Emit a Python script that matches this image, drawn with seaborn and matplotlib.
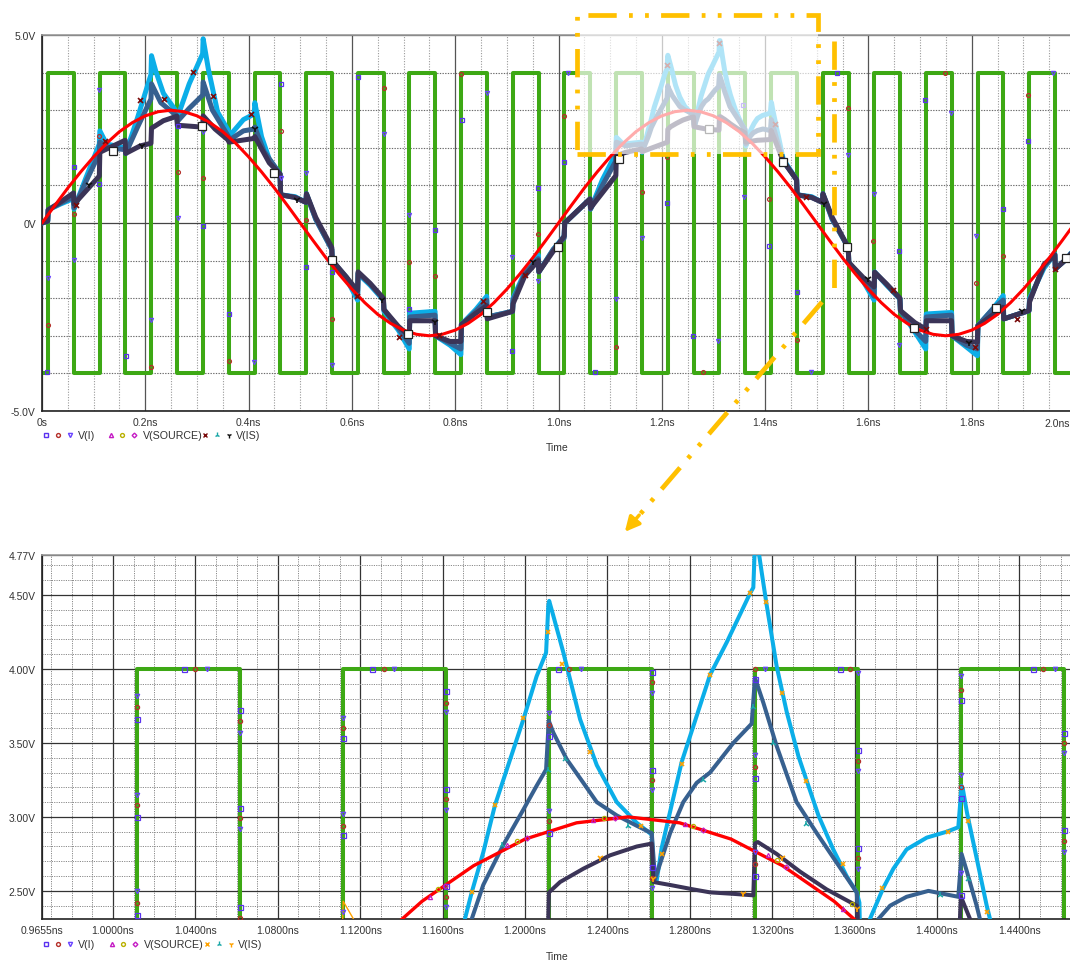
import numpy as np
import pandas as pd
import matplotlib
matplotlib.use("Agg")
import matplotlib.pyplot as plt
import seaborn as sns
from matplotlib.lines import Line2D
from matplotlib.patches import Rectangle, FancyArrowPatch
from matplotlib.ticker import MultipleLocator, FixedLocator

# ------------------------------------------------------------------ data
clk_rise = [0.0115, 0.1115, 0.2115, 0.3115, 0.4115, 0.5115, 0.6115, 0.7115, 0.8115, 0.9115,
            1.0115, 1.1115, 1.2115, 1.3115, 1.4115, 1.5115, 1.6115, 1.7115, 1.8115, 1.9115]
clk_fall = [0.0615, 0.1615, 0.2615, 0.3615, 0.4615, 0.5615, 0.6615, 0.7615, 0.8615, 0.9615,
            1.0615, 1.1615, 1.2615, 1.3615, 1.4615, 1.5615, 1.6615, 1.7615, 1.8615, 1.9615]
clk_high, clk_low = 4.0, -4.0

red_step = 0.025
red_v = [0.00, 0.47, 0.93, 1.36, 1.76, 2.12, 2.43, 2.67, 2.85, 2.96, 3.00, 2.96, 2.85, 2.67, 2.43, 2.12,
         1.76, 1.36, 0.93, 0.47, 0.00, -0.47, -0.93, -1.36, -1.76, -2.12, -2.43, -2.67, -2.85, -2.96,
         -3.00, -2.96, -2.85, -2.67, -2.43, -2.12, -1.76, -1.36, -0.93, -0.47,
         0.00, 0.47, 0.93, 1.36, 1.76, 2.12, 2.43, 2.67, 2.85, 2.96, 3.00, 2.96, 2.85, 2.67, 2.43, 2.12,
         1.76, 1.36, 0.93, 0.47, 0.00, -0.47, -0.93, -1.36, -1.76, -2.12, -2.43, -2.67, -2.85, -2.96,
         -3.00, -2.96, -2.85, -2.67, -2.43, -2.12, -1.76, -1.36, -0.93, -0.47, 0.00]

trace_lb = [(0.000, 0.00), (0.011, 0.05), (0.012, 0.35), (0.035, 0.50), (0.061, 0.65), (0.062, 0.37),
            (0.085, 1.20), (0.111, 2.10), (0.112, 2.45), (0.125, 2.10), (0.161, 2.00), (0.162, 1.85),
            (0.185, 2.80), (0.211, 3.95), (0.212, 4.45), (0.220, 4.05), (0.235, 3.45), (0.261, 2.95),
            (0.262, 2.80), (0.285, 3.70), (0.311, 4.50), (0.312, 4.90), (0.322, 4.10), (0.340, 2.95),
            (0.361, 2.45), (0.362, 2.30), (0.390, 2.75), (0.411, 2.90), (0.412, 3.20), (0.425, 2.30),
            (0.440, 1.70), (0.461, 1.30), (0.462, 0.75), (0.490, 0.70), (0.511, 0.55), (0.512, 0.78),
            (0.530, 0.10), (0.561, -0.70), (0.562, -1.00), (0.590, -1.50), (0.611, -2.05), (0.612, -1.35),
            (0.635, -1.65), (0.661, -2.05), (0.662, -2.35), (0.690, -2.85), (0.711, -3.35), (0.712, -2.40),
            (0.761, -2.35), (0.762, -3.00), (0.790, -3.25), (0.811, -3.50), (0.812, -2.70), (0.840, -2.30),
            (0.861, -1.95), (0.862, -2.50), (0.911, -2.35), (0.912, -2.00), (0.935, -1.30), (0.961, -0.85),
            (0.962, -1.30), (0.990, -0.70), (1.011, -0.35), (1.012, 0.00), (1.035, 0.30), (1.061, 0.64),
            (1.062, 0.37), (1.085, 1.15), (1.111, 1.85), (1.112, 2.28), (1.125, 2.10), (1.161, 2.15),
            (1.162, 1.88), (1.1708, 2.31), (1.1741, 2.49), (1.1797, 2.76), (1.1854, 3.08), (1.1911, 3.32),
            (1.1992, 3.66), (1.2056, 3.95), (1.2102, 4.11), (1.2113, 4.43), (1.2117, 4.46), (1.2137, 4.36),
            (1.2186, 4.11), (1.2267, 3.66), (1.2348, 3.35), (1.2445, 3.10), (1.2542, 2.96), (1.2615, 2.88),
            (1.2623, 2.63), (1.2639, 2.57), (1.2663, 2.79), (1.2760, 3.37), (1.2849, 3.75), (1.2898, 3.96),
            (1.2979, 4.18), (1.3092, 4.51), (1.3108, 4.55), (1.3116, 4.85), (1.3128, 4.85), (1.3149, 4.65),
            (1.3173, 4.43), (1.3221, 4.02), (1.3270, 3.71), (1.3327, 3.41), (1.3424, 3.01), (1.3496, 2.78),
            (1.3561, 2.60), (1.3610, 2.49), (1.3623, 2.42), (1.3628, 2.05), (1.3674, 2.31), (1.3739, 2.52),
            (1.3788, 2.65), (1.3852, 2.78), (1.3950, 2.86), (1.4047, 2.90), (1.4103, 2.93), (1.4119, 3.21),
            (1.4125, 3.19), (1.4145, 3.03), (1.4192, 2.72), (1.4241, 2.40), (1.4257, 2.31), (1.4350, 1.70),
            (1.461, 1.15), (1.462, 0.75), (1.490, 0.70), (1.511, 0.55), (1.512, 0.78), (1.530, 0.10),
            (1.561, -0.65), (1.562, -1.05), (1.590, -1.55), (1.611, -2.05), (1.612, -1.30), (1.635, -1.65),
            (1.661, -2.02), (1.662, -2.33), (1.690, -2.90), (1.711, -3.35), (1.712, -2.42), (1.761, -2.38),
            (1.762, -3.00), (1.790, -3.30), (1.811, -3.53), (1.812, -2.73), (1.840, -2.30), (1.861, -1.93),
            (1.862, -2.55), (1.911, -2.33), (1.912, -2.00), (1.940, -1.20), (1.961, -0.82), (1.962, -1.22),
            (1.985, -0.94), (2.000, -0.65)]

trace_sb = [(0.000, 0.00), (0.011, 0.05), (0.012, 0.35), (0.035, 0.52), (0.061, 0.70), (0.062, 0.40),
            (0.085, 1.10), (0.111, 1.85), (0.112, 2.15), (0.130, 2.00), (0.161, 1.95), (0.162, 1.85),
            (0.185, 2.55), (0.211, 3.30), (0.212, 3.70), (0.230, 3.20), (0.261, 2.85), (0.262, 2.70),
            (0.285, 3.05), (0.311, 3.40), (0.312, 3.75), (0.330, 3.00), (0.361, 2.30), (0.362, 2.20),
            (0.390, 2.45), (0.411, 2.50), (0.412, 2.55), (0.430, 1.90), (0.461, 1.30), (0.462, 0.75),
            (0.490, 0.68), (0.511, 0.55), (0.512, 0.76), (0.530, 0.10), (0.561, -0.70), (0.562, -1.00),
            (0.590, -1.45), (0.611, -1.95), (0.612, -1.33), (0.635, -1.62), (0.661, -2.03), (0.662, -2.30),
            (0.690, -2.80), (0.711, -3.20), (0.712, -2.50), (0.761, -2.45), (0.762, -3.00), (0.790, -3.20),
            (0.811, -3.35), (0.812, -2.70), (0.840, -2.35), (0.861, -2.05), (0.862, -2.50), (0.911, -2.35),
            (0.912, -2.05), (0.935, -1.35), (0.961, -0.95), (0.962, -1.30), (0.990, -0.70), (1.011, -0.40),
            (1.012, 0.00), (1.035, 0.30), (1.061, 0.64), (1.062, 0.37), (1.085, 1.00), (1.111, 1.65),
            (1.112, 2.15), (1.130, 2.05), (1.161, 2.10), (1.162, 1.90), (1.1741, 2.31), (1.1797, 2.54),
            (1.1894, 2.81), (1.1992, 3.05), (1.2056, 3.21), (1.2102, 3.32), (1.2115, 3.65), (1.2137, 3.57),
            (1.2202, 3.39), (1.2283, 3.23), (1.2348, 3.10), (1.2445, 3.01), (1.2542, 2.94), (1.2615, 2.89),
            (1.2631, 2.58), (1.2704, 2.89), (1.2768, 3.10), (1.2833, 3.23), (1.2898, 3.30), (1.3011, 3.50),
            (1.3100, 3.63), (1.3116, 3.94), (1.3157, 3.77), (1.3221, 3.48), (1.3318, 3.10), (1.3416, 2.89),
            (1.3513, 2.69), (1.3610, 2.49), (1.3625, 2.10), (1.3715, 2.31), (1.3772, 2.40), (1.3852, 2.46),
            (1.3958, 2.50), (1.4030, 2.48), (1.4103, 2.46), (1.4119, 2.75), (1.4145, 2.63), (1.4192, 2.40),
            (1.4208, 2.31), (1.4350, 1.65), (1.461, 1.15), (1.462, 0.75), (1.490, 0.68), (1.511, 0.55),
            (1.512, 0.76), (1.530, 0.10), (1.561, -0.65), (1.562, -1.05), (1.590, -1.50), (1.611, -1.95),
            (1.612, -1.31), (1.635, -1.63), (1.661, -2.01), (1.662, -2.33), (1.690, -2.85), (1.711, -3.15),
            (1.712, -2.50), (1.761, -2.45), (1.762, -3.00), (1.790, -3.25), (1.811, -3.35), (1.812, -2.73),
            (1.840, -2.30), (1.861, -2.05), (1.862, -2.55), (1.911, -2.33), (1.912, -2.05), (1.940, -1.15),
            (1.961, -0.84), (1.962, -1.22), (1.985, -0.94), (2.000, -0.67)]

trace_nv = [(0.000, 0.00), (0.011, 0.05), (0.012, 0.35), (0.035, 0.55), (0.061, 0.80), (0.062, 0.50),
            (0.085, 0.85), (0.111, 1.25), (0.112, 1.88), (0.130, 2.00), (0.161, 2.20), (0.162, 1.85),
            (0.190, 2.05), (0.211, 2.12), (0.212, 2.52), (0.235, 2.72), (0.261, 2.84), (0.262, 2.60),
            (0.311, 2.55), (0.312, 2.85), (0.335, 2.50), (0.361, 2.20), (0.362, 2.15), (0.411, 2.25),
            (0.412, 2.30), (0.440, 1.60), (0.461, 1.30), (0.462, 0.75), (0.490, 0.68), (0.511, 0.55),
            (0.512, 0.78), (0.530, 0.15), (0.561, -0.65), (0.562, -1.00), (0.590, -1.45), (0.611, -1.80),
            (0.612, -1.30), (0.635, -1.60), (0.661, -2.00), (0.662, -2.30), (0.690, -2.75), (0.711, -3.00),
            (0.712, -2.60), (0.761, -2.60), (0.762, -3.00), (0.790, -3.15), (0.811, -3.15), (0.812, -2.70),
            (0.840, -2.40), (0.861, -2.20), (0.862, -2.55), (0.911, -2.35), (0.912, -2.15), (0.935, -1.40),
            (0.961, -1.00), (0.962, -1.30), (0.995, -0.65), (1.011, -0.35), (1.012, 0.00), (1.035, 0.30),
            (1.061, 0.64), (1.062, 0.40), (1.111, 1.26), (1.112, 1.79), (1.130, 1.88), (1.161, 1.97),
            (1.162, 1.90), (1.2110, 2.15), (1.2116, 2.49), (1.2170, 2.56), (1.2283, 2.65), (1.2412, 2.74),
            (1.2542, 2.80), (1.2615, 2.82), (1.2623, 2.56), (1.2704, 2.54), (1.2817, 2.51), (1.2898, 2.49),
            (1.3011, 2.48), (1.3108, 2.47), (1.3116, 2.82), (1.3130, 2.83), (1.3221, 2.75), (1.3335, 2.63),
            (1.3464, 2.51), (1.3610, 2.40), (1.3622, 2.15), (1.3850, 2.20), (1.4108, 2.22), (1.4116, 2.46),
            (1.4160, 2.31), (1.4350, 1.65), (1.461, 1.15), (1.462, 0.75), (1.490, 0.68), (1.511, 0.55),
            (1.512, 0.78), (1.530, 0.15), (1.561, -0.65), (1.562, -1.05), (1.590, -1.45), (1.611, -1.70),
            (1.612, -1.31), (1.635, -1.62), (1.661, -2.00), (1.662, -2.33), (1.690, -2.65), (1.711, -2.82),
            (1.712, -2.60), (1.761, -2.60), (1.762, -3.00), (1.790, -3.15), (1.811, -3.17), (1.812, -2.73),
            (1.840, -2.45), (1.861, -2.24), (1.862, -2.55), (1.911, -2.33), (1.912, -2.10), (1.940, -1.10),
            (1.961, -0.85), (1.962, -1.22), (1.985, -0.94), (2.000, -0.69)]

trace_or = [(1.1113, 2.20), (1.1117, 2.43), (1.1167, 2.31), (1.1180, 2.20)]

# markers, top chart
top_sq_t = [0.009, 0.062, 0.111, 0.163, 0.263, 0.312, 0.363, 0.463, 0.511, 0.561, 0.611, 0.7106, 0.761,
            0.8126, 0.9106, 0.961, 1.011, 1.0707, 1.2107, 1.261, 1.358, 1.408, 1.461, 1.5386, 1.66, 1.7096,
            1.86, 1.9097]
top_sq_v = [-3.95, 1.48, 1.05, -3.53, 2.59, -0.07, -2.42, 3.71, -1.18, -1.29, 3.87, -2.29, -0.19,
            2.75, -3.4, 0.92, 1.63, -3.97, 0.52, -3.0, 3.14, -0.6, -1.84, 4.0, -0.75, 3.28, 0.37, 2.17]
top_ci_t = [0.011, 0.062, 0.111, 0.211, 0.263, 0.312, 0.363, 0.463, 0.511, 0.561, 0.6615, 0.7106, 0.761,
            0.811, 0.961, 1.011, 1.111, 1.161, 1.2107, 1.279, 1.408, 1.461, 1.56, 1.608, 1.748, 1.808,
            1.86, 1.9097]
top_ci_v = [-2.7, 0.24, 2.32, -3.82, 1.35, 1.2, -3.66, 2.46, 0.08, -2.55, 3.58, -1.05, -1.42, 3.97,
            -0.29, 2.85, -3.29, 0.82, 1.75, -3.97, 0.64, -3.1, 3.05, -0.48, 4.0, -1.6, -0.89, 3.41]
top_tr_t = [0.011, 0.062, 0.111, 0.211, 0.263, 0.312, 0.41, 0.463, 0.511, 0.561, 0.6615, 0.7106, 0.861,
            0.9106, 0.961, 1.019, 1.111, 1.161, 1.309, 1.36, 1.489, 1.56, 1.61, 1.66, 1.76, 1.808, 1.958]
top_tr_v = [-1.45, -0.98, 3.55, -2.58, 0.13, 2.41, -3.7, 1.21, 1.32, -3.77, 2.37, 0.2, 3.47, -0.91,
            -1.53, 4.0, -2.02, -0.41, -3.15, 0.68, -3.97, 1.81, 0.78, -3.24, 2.92, -0.34, 4.0]
top_x_t = [0.066, 0.122, 0.19, 0.236, 0.292, 0.332, 0.404, 0.609, 0.691, 0.769, 0.854, 0.935, 1.2094,
           1.3106, 1.4195, 1.48, 1.648, 1.712, 1.807, 1.888, 1.961]
top_x_v = [0.49, 2.19, 3.28, 3.31, 4.02, 3.39, 2.9, -1.93, -3.04, -2.97, -2.07, -1.37, 4.2, 4.8, 2.63,
           0.7, -1.78, -2.82, -3.31, -2.55, -1.22]
top_y_t = [0.0917, 0.1936, 0.4123, 0.4944, 0.659, 0.761, 0.951, 1.514, 1.6, 1.794, 1.897]
top_y_v = [1.0, 2.04, 2.5, 0.6, -2.04, -2.64, -1.05, 0.51, -1.49, -3.2, -2.33]
top_cur_t = [0.138, 0.3104, 0.4498, 0.562, 0.7092, 0.861, 0.9997, 1.117, 1.2914, 1.435, 1.558, 1.689,
             1.848, 1.982]
top_cur_v = [1.92, 2.59, 1.32, -0.98, -2.95, -2.36, -0.65, 1.70, 2.5, 1.61, -0.65, -2.8, -2.27, -0.94]

# markers, zoomed chart
bot_sq_t = [1.0346, 1.0115, 1.0115, 1.0115, 1.0615, 1.0615, 1.0615, 1.1115, 1.1115, 1.1258, 1.1615,
            1.1615, 1.1615, 1.2162, 1.2115, 1.2115, 1.2615, 1.2615, 1.2615, 1.3528, 1.3615, 1.3615,
            1.4115, 1.4115, 1.4115, 1.3115, 1.3115, 1.3115, 1.4615, 1.4615, 1.4465]
bot_sq_v = [4.0, 3.66, 3.0, 2.34, 3.72, 3.06, 2.39, 3.53, 2.88, 4.0, 3.85, 3.19, 2.53, 4.0, 3.55, 2.89,
            3.98, 3.32, 2.66, 4.0, 3.45, 2.79, 3.79, 3.13, 2.47, 3.93, 3.26, 2.6, 3.57, 2.91, 4.0]
bot_ci_t = [1.0399, 1.0115, 1.0115, 1.0115, 1.0615, 1.0615, 1.0615, 1.1115, 1.1115, 1.1313, 1.1615,
            1.1615, 1.1615, 1.2215, 1.2115, 1.2115, 1.2615, 1.2615, 1.2615, 1.3578, 1.3615, 1.3615,
            1.4115, 1.4115, 1.3115, 1.3115, 1.3115, 1.4615, 1.4615, 1.4516]
bot_ci_v = [4.0, 3.74, 3.08, 2.42, 3.65, 2.99, 2.32, 3.60, 2.94, 4.0, 3.77, 3.12, 2.46, 4.0, 3.62, 2.97,
            3.91, 3.25, 2.59, 4.0, 3.38, 2.72, 3.86, 3.2, 4.0, 3.34, 2.68, 3.5, 2.84, 4.0]
bot_tr_t = [1.0454, 1.0115, 1.0115, 1.0115, 1.0615, 1.0615, 1.1115, 1.1115, 1.1115, 1.1363, 1.1615,
            1.1615, 1.1615, 1.2270, 1.2115, 1.2115, 1.2615, 1.2615, 1.2615, 1.3167, 1.3615, 1.3615,
            1.3615, 1.4115, 1.4115, 1.4115, 1.3115, 1.3115, 1.4615, 1.4615, 1.4571]
bot_tr_v = [4.0, 3.82, 3.15, 2.50, 3.57, 2.92, 3.67, 3.02, 2.36, 4.0, 3.71, 3.05, 2.39, 4.0, 3.70, 3.04,
            3.84, 3.18, 2.52, 4.0, 3.97, 3.31, 2.65, 3.95, 3.28, 2.62, 3.42, 2.76, 3.43, 2.76, 4.0]
bot_x_t = [1.1741, 1.1854, 1.1992, 1.2113, 1.2180, 1.2315, 1.2563, 1.2663, 1.2760, 1.2898, 1.3092,
           1.3168, 1.3245, 1.3366, 1.3545, 1.3734, 1.4053, 1.4151, 1.4243]
bot_x_v = [2.49, 3.08, 3.67, 4.25, 4.03, 3.44, 2.94, 2.75, 3.36, 3.96, 4.51, 4.45, 3.84, 3.24, 2.68,
           2.52, 2.90, 2.97, 2.36]
bot_a_t = [1.1886, 1.2113, 1.2196, 1.2502, 1.2866, 1.3108, 1.3202, 1.3363, 1.4015, 1.4151]
bot_a_v = [2.81, 3.32, 3.39, 2.94, 3.25, 3.74, 3.50, 2.95, 2.47, 2.58]
bot_y_t = [1.2362, 1.2623, 1.3058, 1.3245, 1.3610]
bot_y_v = [2.72, 2.58, 2.48, 2.72, 2.38]
bot_rt_t = [1.1538, 1.1911, 1.2331, 1.2776, 1.3181, 1.3545]
bot_rt_v = [2.46, 2.81, 2.98, 2.95, 2.74, 2.38]
bot_ro_t = [1.1576, 1.1960, 1.2383, 1.2817, 1.3221, 1.3586]
bot_ro_v = [2.51, 2.84, 2.99, 2.94, 2.71, 2.41]
bot_rd_t = [1.1611, 1.2008, 1.2436, 1.2866, 1.3266]
bot_rd_v = [2.53, 2.86, 2.99, 2.91, 2.66]

top_xticks = [0.0, 0.2, 0.4, 0.6, 0.8, 1.0, 1.2, 1.4, 1.6, 1.8]
top_xlabels = ["0s", "0.2ns", "0.4ns", "0.6ns", "0.8ns", "1.0ns", "1.2ns", "1.4ns", "1.6ns", "1.8ns"]
top_last_label = "2.0ns"
top_yticks = [-5, 0, 5]
top_ylabels = ["-5.0V", "0V", "5.0V"]
bot_xticks = [0.9655, 1.00, 1.04, 1.08, 1.12, 1.16, 1.20, 1.24, 1.28, 1.32, 1.36, 1.40, 1.44]
bot_xlabels = ["0.9655ns", "1.0000ns", "1.0400ns", "1.0800ns", "1.1200ns", "1.1600ns", "1.2000ns",
               "1.2400ns", "1.2800ns", "1.3200ns", "1.3600ns", "1.4000ns", "1.4400ns"]
bot_yticks = [2.50, 3.00, 3.50, 4.00, 4.50, 4.77]
bot_ylabels = ["2.50V", "3.00V", "3.50V", "4.00V", "4.50V", "4.77V"]

# ------------------------------------------------------------------ style
sns.set_theme(style="white")
plt.rcParams['font.family'] = ['Liberation Sans', 'DejaVu Sans']

GREEN = "#3DA814"
RED = "#FF0000"
LBLUE = "#0BAEE8"
SBLUE = "#37608F"
NAVY = "#3B3457"
PURPLE = "#5A32F0"
DKRED = "#B5302A"
VIOLET = "#6A44FF"
MAGENTA = "#C41BC4"
OLIVE = "#B9B000"
TEAL = "#1AA7A7"
ORANGE = "#FFA200"
GOLD = "#FFC000"
TXT = "#333333"

W, H = 1070, 962
fig = plt.figure(figsize=(W / 100, H / 100), dpi=100)
fig.patch.set_facecolor("white")


def fx(x):
    return x / W


def fy(y):
    return 1 - y / H


ax1 = fig.add_axes([fx(42), fy(412), (1075 - 42) / W, (412 - 36) / H])
ax2 = fig.add_axes([fx(42), fy(920), (1072 - 42) / W, (920 - 556) / H])

# clock built from the edge lists
clk_t, clk_v = [0.0], [clk_low]
for r, f in zip(clk_rise, clk_fall):
    clk_t += [r, r, f, f]
    clk_v += [clk_low, clk_high, clk_high, clk_low]
clk_t.append(2.0)
clk_v.append(clk_low)
df_clk = pd.DataFrame({"t": clk_t, "v": clk_v})
df_red = pd.DataFrame({"t": np.arange(len(red_v)) * red_step, "v": red_v})


def tdf(tr):
    return pd.DataFrame(tr, columns=["t", "v"])


df_lb, df_sb, df_nv, df_or = tdf(trace_lb), tdf(trace_sb), tdf(trace_nv), tdf(trace_or)


def draw_traces(ax, zoom):
    lwg = 2.9
    lwb = 2.9 if zoom else 3.6
    lwr = 2.4 if zoom else 2.2
    sns.lineplot(data=df_clk, x="t", y="v", ax=ax, color=GREEN, linewidth=lwg, estimator=None,
                 sort=False, legend=False, zorder=2)
    sns.lineplot(data=df_lb, x="t", y="v", ax=ax, color=LBLUE, linewidth=lwb, estimator=None,
                 sort=False, legend=False, zorder=3)
    sns.lineplot(data=df_sb, x="t", y="v", ax=ax, color=SBLUE, linewidth=lwb, estimator=None,
                 sort=False, legend=False, zorder=4)
    sns.lineplot(data=df_nv, x="t", y="v", ax=ax, color=NAVY, linewidth=lwb, estimator=None,
                 sort=False, legend=False, zorder=5)
    sns.lineplot(data=df_red, x="t", y="v", ax=ax, color=RED, linewidth=lwr, estimator=None,
                 sort=False, legend=False, zorder=6)
    if zoom:
        sns.lineplot(data=df_or, x="t", y="v", ax=ax, color=ORANGE, linewidth=1.0, estimator=None,
                     sort=False, legend=False, zorder=6)
    ax.set_xlabel("")
    ax.set_ylabel("")


def mk(ax, t, v, marker, color, ms=3.2, mew=0.9, face="none", z=8):
    ax.plot(t, v, ls="none", marker=marker, ms=ms, mfc=face, mec=color, mew=mew, zorder=z)


draw_traces(ax1, False)
draw_traces(ax2, True)

mk(ax1, top_sq_t, top_sq_v, "s", PURPLE, ms=3.4)
mk(ax1, top_ci_t, top_ci_v, "o", DKRED, ms=2.8)
mk(ax1, top_tr_t, top_tr_v, "v", VIOLET, ms=3.0)
mk(ax1, top_x_t, top_x_v, "x", "#7A0A0A", ms=3.6, mew=1.2)
mk(ax1, top_y_t, top_y_v, "1", "#111111", ms=5, mew=1.2)
mk(ax1, top_cur_t, top_cur_v, "s", "#222222", ms=5.5, mew=0.9, face="white", z=9)

mk(ax2, bot_sq_t, bot_sq_v, "s", PURPLE, ms=3.6)
mk(ax2, bot_ci_t, bot_ci_v, "o", DKRED, ms=3.0)
mk(ax2, bot_tr_t, bot_tr_v, "v", VIOLET, ms=3.2)
mk(ax2, bot_x_t, bot_x_v, "x", ORANGE, ms=3.4, mew=1.2)
mk(ax2, bot_a_t, bot_a_v, "2", TEAL, ms=4.5, mew=1.1)
mk(ax2, bot_y_t, bot_y_v, "1", ORANGE, ms=4.5, mew=1.2)
mk(ax2, bot_rt_t, bot_rt_v, "^", MAGENTA, ms=3.0)
mk(ax2, bot_ro_t, bot_ro_v, "o", OLIVE, ms=3.0)
mk(ax2, bot_rd_t, bot_rd_v, "D", MAGENTA, ms=2.6)

# ------------------------------------------------------------------ axes styling
ax1.set_xlim(0, 2.0)
ax1.set_ylim(-5, 5)
ax1.xaxis.set_major_locator(FixedLocator(top_xticks))
ax1.set_xticklabels(top_xlabels)
ax1.xaxis.set_minor_locator(MultipleLocator(0.05))
ax1.yaxis.set_major_locator(FixedLocator(top_yticks))
ax1.set_yticklabels(top_ylabels)
ax1.yaxis.set_minor_locator(MultipleLocator(1))
ax1.grid(which="major", axis="x", color="#555555", lw=0.9, ls="-")
ax1.grid(which="minor", axis="x", color="#9a9a9a", lw=0.8, ls=(0, (1, 1.4)))
ax1.grid(which="major", axis="y", color="#444444", lw=0.9, ls="-")
ax1.grid(which="minor", axis="y", color="#6a6a6a", lw=0.8, ls=(0, (1.2, 1.2)))

ax2.set_xlim(0.9655, 1.4655)
ax2.set_ylim(2.31, 4.77)
ax2.xaxis.set_major_locator(FixedLocator(bot_xticks))
ax2.set_xticklabels(bot_xlabels)
ax2.xaxis.set_minor_locator(MultipleLocator(0.01))
ax2.yaxis.set_major_locator(FixedLocator(bot_yticks))
ax2.set_yticklabels(bot_ylabels)
ax2.yaxis.set_minor_locator(MultipleLocator(0.1))
ax2.grid(which="major", axis="both", color="#333333", lw=0.9, ls="-")
ax2.grid(which="minor", axis="both", color="#8a8a8a", lw=0.7, ls=(0, (1.2, 1.2)))

for ax in (ax1, ax2):
    ax.set_facecolor("white")
    ax.set_axisbelow(True)
    ax.tick_params(which="both", length=0, labelsize=7.5, colors=TXT, pad=4.5)
    ax.spines["left"].set_color("#222222")
    ax.spines["bottom"].set_color("#222222")
    ax.spines["top"].set_color("#9a9a9a")
    ax.spines["right"].set_visible(False)
    for s in ("left", "bottom", "top"):
        ax.spines[s].set_linewidth(1.2)

fig.text(fx(1057), fy(424), top_last_label, ha="center", va="center", fontsize=7.5, color=TXT)
fig.text(fx(557), fy(448), "Time", ha="center", va="center", fontsize=7.5, color=TXT)
fig.text(fx(557), fy(957), "Time", ha="center", va="center", fontsize=7.5, color=TXT)


# ------------------------------------------------------------------ legends
def legend_row(y, xcol, ycol, dx=0):
    syms = [(46, "s", PURPLE, 3.0), (58, "o", DKRED, 2.8), (70, "v", VIOLET, 3.0),
            (111, "^", MAGENTA, 3.0), (122, "o", OLIVE, 2.8), (134, "D", MAGENTA, 2.4),
            (205, "x", xcol, 3.2), (217, "2", TEAL, 4.2), (229, "1", ycol, 4.2)]
    for i, (x, m, c, s) in enumerate(syms):
        xx = x + (dx * (i >= 3)) + (dx * (i >= 6))
        fig.add_artist(Line2D([fx(xx)], [fy(y)], transform=fig.transFigure, marker=m, ms=s,
                              mfc="none", mec=c, mew=1.0, ls="none"))
    for x, s in [(78, "V(I)"), (143 + dx, "V(SOURCE)"), (236 + 2 * dx, "V(IS)")]:
        fig.text(fx(x), fy(y), s, ha="left", va="center", fontsize=7.7, color=TXT)


legend_row(436, "#7A0A0A", "#111111")
legend_row(945, ORANGE, ORANGE, dx=1)

# ------------------------------------------------------------------ zoom callout
fig.add_artist(Rectangle((fx(577), fy(155)), (818 - 577) / W, (155 - 16) / H,
                         transform=fig.transFigure, facecolor="white", alpha=0.68,
                         edgecolor="none", zorder=10))
dash = (0, (6, 2.6, 0.8, 2.6, 0.8, 2.6))
fig.add_artist(Rectangle((fx(577), fy(155)), (818 - 577) / W, (155 - 16) / H,
                         transform=fig.transFigure, fill=False, edgecolor=GOLD, lw=3.4,
                         linestyle=dash, zorder=11))
fig.add_artist(Line2D([fx(834), fx(834)], [fy(42), fy(293)], transform=fig.transFigure,
                      color=GOLD, lw=3.4, linestyle=dash, zorder=11))
fig.add_artist(Line2D([fx(822), fx(636)], [fy(303), fy(520)], transform=fig.transFigure,
                      color=GOLD, lw=3.4, linestyle=dash, zorder=11))
fig.add_artist(FancyArrowPatch(posA=(fx(641), fy(514)), posB=(fx(623), fy(535)),
                               transform=fig.transFigure, arrowstyle="-|>", mutation_scale=22,
                               color=GOLD, lw=2.5, zorder=11))

fig.savefig("out.png", dpi=100, facecolor="white")
